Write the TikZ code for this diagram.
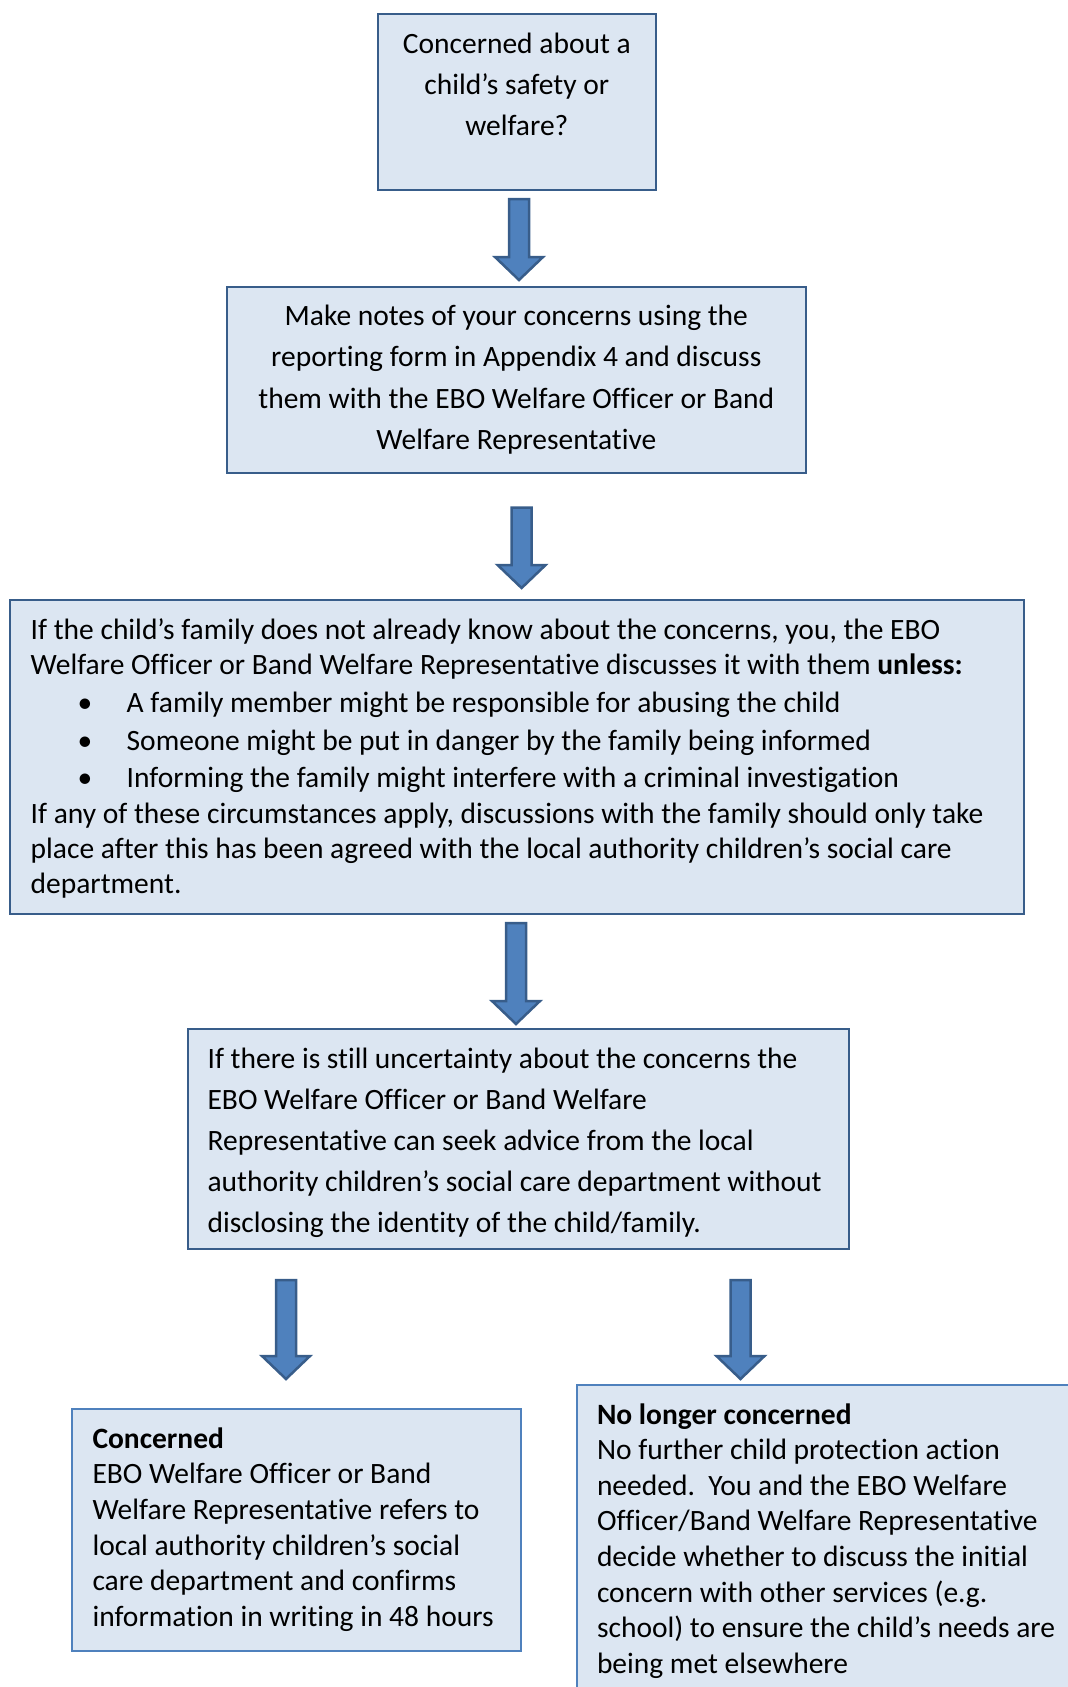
\documentclass[tikz,border=0pt]{standalone}
\usepackage{fontspec}
\setmainfont{Carlito}[Ligatures=NoCommon]
\usetikzlibrary{calc}
\definecolor{boxfill}{HTML}{DCE6F2}
\definecolor{darkline}{HTML}{385D8A}
\definecolor{lightline}{HTML}{4F81BD}
\definecolor{arrowfill}{HTML}{4F81BD}
\newcommand\flowarrow[4]{% name, x centre, top y, tip y
  \coordinate (#1) at (#2,#3);
  \draw[blockarrow] ($(#1)+(-10,0)$) -- ($(#1)+(10,0)$) -- ($(#1)+(10,#4-#3-23)$)
    -- ($(#1)+(24,#4-#3-23)$) -- ($(#1)+(0,#4-#3)$) -- ($(#1)+(-24,#4-#3-23)$)
    -- ($(#1)+(-10,#4-#3-23)$) -- cycle;}
\newcommand\bulletline{\hspace*{47pt}\makebox[49pt][l]{\textbullet}}
\begin{document}
\begin{tikzpicture}[x=1pt,y=-1pt,
  boxnode/.style={draw=darkline, line width=2pt, fill=boxfill, anchor=north west,
    inner sep=0pt, outer sep=0pt},
  lightbox/.style={boxnode, draw=lightline},
  blockarrow/.style={draw=darkline, line width=2.5pt, fill=arrowfill, line join=miter},
  txt/.style={inner sep=0pt, outer sep=0pt}]
\useasboundingbox (0,0) rectangle (1068,1687);
\clip (0,0) rectangle (1068,1687);

% boxes
\node[boxnode, minimum width=278.5pt, minimum height=176.4pt] (b1) at (377.5,14) {};
\node[boxnode, minimum width=578.5pt, minimum height=186pt] (b2) at (227,287) {};
\node[boxnode, minimum width=1014.3pt, minimum height=313.5pt] (b3) at (9.5,600) {};
\node[boxnode, minimum width=660.6pt, minimum height=219.6pt] (b4) at (188,1029) {};
\node[lightbox, minimum width=448.5pt, minimum height=242pt] (b5) at (72,1409) {};
\node[lightbox, minimum width=540pt, minimum height=340pt] (b6) at (576.5,1385) {};

% texts
\node[txt, anchor=base, font=\fontsize{29.5}{41}\selectfont] (t1) at (516.8,53.3)
  {\begin{tabular}[t]{@{}c@{}}Concerned about a\\child’s safety or\\welfare?\end{tabular}};
\node[txt, anchor=base, font=\fontsize{29.5}{41.6}\selectfont] (t2) at (516.3,325)
  {\begin{tabular}[t]{@{}c@{}}Make notes of your concerns using the\\reporting form in Appendix 4 and discuss\\them with the EBO Welfare Officer or Band\\Welfare Representative\end{tabular}};
\node[txt, anchor=base west, font=\fontsize{29.5}{35.2}\selectfont] (t3) at (30.7,639)
  {\begin{tabular}[t]{@{}l@{}}If the child’s family does not already know about the concerns, you, the EBO\\
  Welfare Officer or Band Welfare Representative discusses it with them \textbf{unless:}\\[2.8pt]
  \bulletline A family member might be responsible for abusing the child\\[2.8pt]
  \bulletline Someone might be put in danger by the family being informed\\[1.8pt]
  \bulletline Informing the family might interfere with a criminal investigation\\[0.8pt]
  If any of these circumstances apply, discussions with the family should only take\\
  place after this has been agreed with the local authority children’s social care\\
  department.\end{tabular}};
\node[txt, anchor=base west, font=\fontsize{29.5}{41.2}\selectfont] (t4) at (207.6,1068)
  {\begin{tabular}[t]{@{}l@{}}If there is still uncertainty about the concerns the\\EBO Welfare Officer or Band Welfare\\Representative can seek advice from the local\\authority children’s social care department without\\disclosing the identity of the child/family.\end{tabular}};
\node[txt, anchor=base west, font=\fontsize{29.5}{35.7}\selectfont] (t5) at (92.5,1448)
  {\begin{tabular}[t]{@{}l@{}}\textbf{Concerned}\\EBO Welfare Officer or Band\\Welfare Representative refers to\\local authority children’s social\\care department and confirms\\information in writing in 48 hours\end{tabular}};
\node[txt, anchor=base west, font=\fontsize{29.5}{35.6}\selectfont] (t6) at (597,1424)
  {\begin{tabular}[t]{@{}l@{}}\textbf{No longer concerned}\\No further child protection action\\needed.\ \ You and the EBO Welfare\\Officer/Band Welfare Representative\\decide whether to discuss the initial\\concern with other services (e.g.\\school) to ensure the child’s needs are\\being met elsewhere\end{tabular}};

% arrows
\flowarrow{a1}{519}{199}{280}
\flowarrow{a2}{521.6}{507.6}{588}
\flowarrow{a3}{516}{923}{1024}
\flowarrow{a4}{286}{1280}{1379}
\flowarrow{a5}{740.5}{1280}{1379}
\end{tikzpicture}
\end{document}
